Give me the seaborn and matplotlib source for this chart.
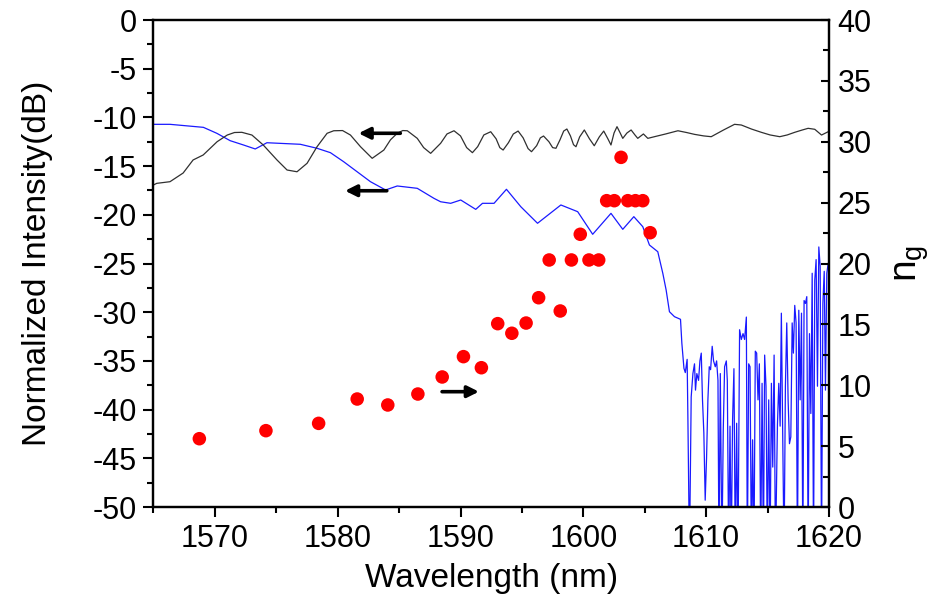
import numpy as np
import pandas as pd
import matplotlib
matplotlib.use("Agg")
import matplotlib.pyplot as plt
from matplotlib.ticker import MultipleLocator
import seaborn as sns

# black trace (transmission, left axis)
black_nm = [1565.0, 1565.27, 1566.35, 1567.42, 1568.23, 1569.05, 1570.19, 1571.01, 1571.6, 1572.20,
            1573.02, 1573.94, 1575.06, 1575.88, 1576.69, 1577.51, 1578.32, 1579.14, 1579.68, 1580.4,
            1581.04, 1581.86, 1582.81, 1583.76, 1584.3, 1584.85, 1585.3, 1585.67, 1586.48, 1587.0,
            1587.57, 1588.38, 1588.9, 1589.47, 1590.0, 1590.5, 1590.97, 1591.4, 1591.9, 1592.46,
            1592.9, 1593.2, 1593.47, 1593.9, 1594.3, 1594.69, 1595.1, 1595.5, 1595.78, 1596.2,
            1596.5, 1596.76, 1597.2, 1597.5, 1597.77, 1598.1, 1598.4, 1598.66, 1598.95, 1599.2,
            1599.40, 1599.7, 1600.08, 1600.5, 1600.89, 1601.3, 1601.66, 1602.0, 1602.25, 1602.5,
            1602.74, 1603.0, 1603.21, 1603.55, 1603.89, 1604.2, 1604.43, 1604.89, 1605.25, 1605.79,
            1606.7, 1607.70, 1608.4, 1609.05, 1609.8, 1610.41, 1611.4, 1612.31, 1612.86, 1613.7,
            1614.49, 1615.2, 1615.99, 1616.6, 1617.21, 1617.8, 1618.30, 1618.84, 1619.39, 1619.93]
black_db = [-16.94, -16.77, -16.60, -15.71, -14.37, -13.86, -12.49, -11.81, -11.55, -11.53,
            -11.81, -12.83, -14.37, -15.40, -15.58, -14.71, -13.01, -11.63, -11.37, -11.35,
            -11.81, -13.01, -14.20, -13.35, -12.3, -11.63, -11.35, -11.37, -12.15, -13.1,
            -13.69, -12.66, -11.7, -11.37, -11.9, -13.1, -13.62, -13.0, -11.8, -11.47,
            -12.2, -13.1, -13.35, -12.6, -11.7, -11.40, -12.1, -13.2, -13.52, -12.9,
            -12.1, -11.91, -12.5, -13.1, -13.17, -12.3, -11.4, -11.19, -11.9, -12.8,
            -13.01, -12.0, -11.29, -12.2, -12.91, -12.0, -11.40, -12.2, -12.83, -11.6,
            -10.95, -11.6, -12.15, -11.6, -11.29, -11.8, -12.15, -11.70, -12.15, -11.98,
            -11.7, -11.37, -11.55, -11.74, -11.9, -11.98, -11.3, -10.71, -10.78, -11.2,
            -11.53, -11.8, -11.98, -11.8, -11.53, -11.3, -11.12, -11.22, -11.81, -11.47]

# blue trace, smooth part
blue_nm = [1565.0, 1566.35, 1569.07, 1570.16, 1571.25, 1572.33, 1573.29, 1574.24, 1576.96, 1578.32,
           1579.41, 1580.49, 1581.59, 1582.67, 1583.90, 1584.85, 1586.48, 1587.84, 1588.38, 1589.20,
           1590.02, 1591.24, 1591.79, 1592.73, 1593.74, 1594.91, 1596.27, 1598.17, 1599.54, 1600.76,
           1602.25, 1603.21, 1604.11, 1604.84, 1605.38, 1606.06, 1606.47, 1606.74, 1607.01, 1607.42,
           1607.91, 1608.02, 1608.19, 1608.30, 1608.45]
blue_db = [-10.71, -10.71, -11.02, -11.63, -12.39, -12.83, -13.24, -12.60, -12.76, -13.17,
           -13.62, -14.55, -15.58, -16.60, -17.45, -17.04, -17.28, -18.31, -18.66, -18.82,
           -18.48, -19.44, -18.82, -18.82, -17.38, -19.17, -20.87, -18.99, -19.68, -22.00,
           -19.85, -21.49, -20.19, -21.22, -23.10, -23.79, -26.01, -27.72, -29.95, -30.46,
           -30.73, -33.19, -35.76, -36.2, -34.84]

# blue trace, noisy tail past the band edge
noise_nm = [1608.51, 1608.64, 1608.78, 1608.92, 1609.05, 1609.13, 1609.24, 1609.38, 1609.49, 1609.60,
            1609.70, 1609.81, 1609.92, 1610.03, 1610.14, 1610.25, 1610.36, 1610.49, 1610.60, 1610.74,
            1610.85, 1610.96, 1611.04, 1611.15, 1611.28, 1611.39, 1611.50, 1611.64, 1611.72, 1611.83,
            1611.94, 1612.04, 1612.15, 1612.26, 1612.37, 1612.48, 1612.59, 1612.72, 1612.86, 1613.00,
            1613.13, 1613.27, 1613.35, 1613.46, 1613.57, 1613.68, 1613.78, 1613.89, 1614.00, 1614.11,
            1614.22, 1614.33, 1614.44, 1614.55, 1614.66, 1614.76, 1614.87, 1614.98, 1615.09, 1615.20,
            1615.31, 1615.42, 1615.53, 1615.64, 1615.80, 1615.91, 1616.02, 1616.12, 1616.23, 1616.34,
            1616.45, 1616.56, 1616.67, 1616.78, 1616.89, 1617.00, 1617.10, 1617.21, 1617.32, 1617.43,
            1617.54, 1617.65, 1617.76, 1617.87, 1617.97, 1618.08, 1618.19, 1618.30, 1618.41, 1618.52,
            1618.63, 1618.74, 1618.84, 1618.95, 1619.06, 1619.17, 1619.28, 1619.39, 1619.50, 1619.61,
            1619.71, 1619.82, 1619.93, 1620.07]
noise_db = [-40.7, -55.0, -38.7, -36.3, -35.3, -38.0, -36.3, -37.0, -35.0, -34.2,
            -39.0, -42.4, -49.3, -45.0, -39.0, -35.6, -35.9, -33.5, -35.0, -35.6,
            -35.0, -37.0, -55.0, -36.3, -55.0, -42.1, -35.6, -35.0, -37.0, -55.0,
            -41.7, -55.0, -41.0, -35.8, -55.0, -41.4, -55.0, -31.8, -32.8, -32.2,
            -32.8, -30.5, -55.0, -35.3, -35.6, -55.0, -43.1, -55.0, -34.0, -34.2,
            -39.0, -35.3, -55.0, -37.3, -55.0, -34.4, -37.6, -55.0, -39.0, -55.0,
            -37.3, -45.9, -34.4, -55.0, -41.6, -37.3, -41.7, -30.1, -42.4, -55.0,
            -37.6, -31.1, -39.0, -43.5, -42.8, -31.1, -34.2, -29.3, -31.1, -55.0,
            -29.8, -39.0, -30.1, -55.0, -28.8, -29.1, -28.4, -55.0, -32.2, -40.4,
            -26.0, -55.0, -26.7, -24.6, -37.6, -23.3, -25.3, -55.0, -29.1, -25.8,
            -38.0, -26.0, -25.0, -24.7]

# group index n_g (right axis)
ng_nm = [1568.74, 1574.16, 1578.45, 1581.59, 1584.08, 1586.53, 1588.51, 1590.24, 1591.70, 1593.03,
         1594.18, 1595.34, 1596.36, 1597.22, 1598.12, 1599.03, 1599.75, 1600.46, 1601.25, 1601.90,
         1602.52, 1603.07, 1603.62, 1604.24, 1604.84, 1605.44]
ng_val = [5.61, 6.27, 6.87, 8.87, 8.38, 9.28, 10.68, 12.35, 11.44, 15.06,
          14.27, 15.11, 17.19, 20.29, 16.10, 20.29, 22.40, 20.29, 20.29, 25.16,
          25.16, 28.72, 25.16, 25.16, 25.16, 22.53]

sns.set_style("ticks")
plt.rcParams['font.family'] = ['Liberation Sans', 'DejaVu Sans']
plt.rcParams['mathtext.default'] = 'regular'
plt.rcParams['axes.unicode_minus'] = False
for k in ['text.color', 'axes.labelcolor', 'xtick.color', 'ytick.color']:
    plt.rcParams[k] = 'black'

fig = plt.figure(figsize=(9.36, 6.01), dpi=100)
ax = fig.add_axes([0.1639, 0.1564, 0.7218, 0.8103])
ax2 = ax.twinx()

df_black = pd.DataFrame({"nm": black_nm, "dB": black_db})
df_blue = pd.DataFrame({"nm": blue_nm + noise_nm, "dB": blue_db + noise_db})
df_ng = pd.DataFrame({"nm": ng_nm, "ng": ng_val})

sns.lineplot(data=df_blue, x="nm", y="dB", ax=ax, color="#1a1aff", lw=0.9,
             estimator=None, sort=False)
sns.lineplot(data=df_black, x="nm", y="dB", ax=ax, color="#303030", lw=0.9,
             estimator=None, sort=False)
sns.scatterplot(data=df_ng, x="nm", y="ng", ax=ax2, color="#ff0000", s=95,
                edgecolor="none", zorder=5)

# arrows telling which axis each curve belongs to
arrow = dict(arrowstyle="-|>", lw=2.6, color="black", mutation_scale=17, shrinkA=0, shrinkB=0)
ax.annotate("", xy=(1581.7, -11.63), xytext=(1585.1, -11.63), arrowprops=arrow)
ax.annotate("", xy=(1580.6, -17.53), xytext=(1584.0, -17.53), arrowprops=arrow)
ax.annotate("", xy=(1591.5, -38.16), xytext=(1588.5, -38.16), arrowprops=arrow)

ax.set_xlim(1565, 1620)
ax.set_ylim(-50, 0)
ax2.set_ylim(0, 40)

ax.xaxis.set_major_locator(MultipleLocator(10))
ax.xaxis.set_minor_locator(MultipleLocator(5))
ax.yaxis.set_major_locator(MultipleLocator(5))
ax.yaxis.set_minor_locator(MultipleLocator(2.5))
ax2.yaxis.set_major_locator(MultipleLocator(5))
ax2.yaxis.set_minor_locator(MultipleLocator(2.5))

ax.set_xlabel("Wavelength (nm)", fontsize=24, labelpad=7)
ax.set_ylabel("Normalized Intensity(dB)", fontsize=24, labelpad=28)
ax2.set_ylabel(r"$n_g$", fontsize=28, labelpad=16)

ax.tick_params(axis="both", which="major", direction="out", length=7, width=1.5,
               labelsize=22, pad=5, top=False, right=False)
ax.tick_params(axis="both", which="minor", direction="out", length=4, width=1.5,
               top=False, right=False)
ax2.tick_params(axis="y", which="major", direction="in", length=6, width=1.5,
                labelsize=22, pad=6)
ax2.tick_params(axis="y", which="minor", direction="in", length=4, width=1.5)

for a in (ax, ax2):
    for sp in a.spines.values():
        sp.set_visible(True)
        sp.set_linewidth(1.6)
        sp.set_color("black")

fig.savefig("out.png", dpi=100)
